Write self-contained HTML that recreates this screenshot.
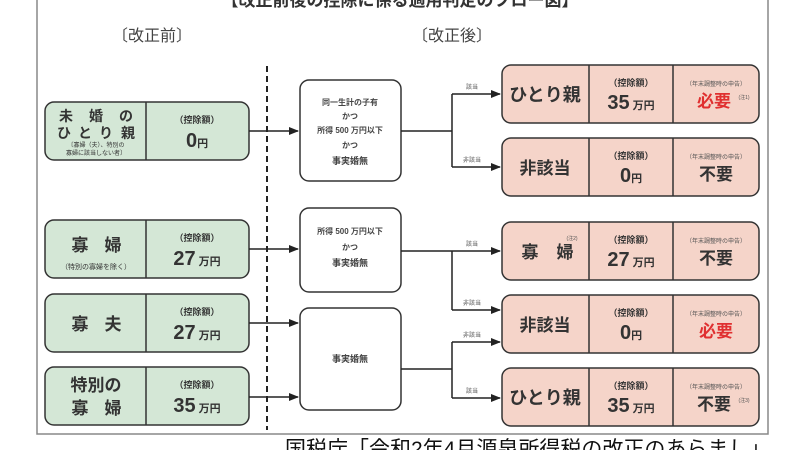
<!DOCTYPE html>
<html><head><meta charset="utf-8"><style>
html,body{margin:0;padding:0;background:#fff;width:800px;height:450px;overflow:hidden}
svg{display:block;font-family:"Liberation Sans","Noto Sans CJK JP",sans-serif}
</style></head><body>
<svg width="800" height="450" viewBox="0 0 800 450" xmlns="http://www.w3.org/2000/svg">
<defs><marker id="a" markerWidth="10" markerHeight="8" refX="9" refY="4" orient="auto" markerUnits="userSpaceOnUse"><path d="M0,0 L10,4 L0,8 z" fill="#222"/></marker></defs>
<path d="M37,0 V434 H768 V0" fill="none" stroke="#888" stroke-width="1.5"/>
<text x="400" y="6" font-size="17" text-anchor="middle" fill="#333" font-weight="bold">【改正前後の控除に係る適用判定のフロー図】</text>
<text x="152" y="41" font-size="16" text-anchor="middle" fill="#444">〔改正前〕</text>
<text x="452" y="41" font-size="16" text-anchor="middle" fill="#444">〔改正後〕</text>
<line x1="267" y1="66" x2="267" y2="430" stroke="#222" stroke-width="2" stroke-dasharray="6,4"/>
<g stroke="#333" stroke-width="1.5" fill="#d4e7d6">
<rect x="45" y="102" width="204" height="58" rx="9"/><line x1="146" y1="102" x2="146" y2="160"/>
<rect x="45" y="220" width="204" height="58" rx="9"/><line x1="146" y1="220" x2="146" y2="278"/>
<rect x="45" y="294" width="204" height="58" rx="9"/><line x1="146" y1="294" x2="146" y2="352"/>
<rect x="45" y="367" width="204" height="58" rx="9"/><line x1="146" y1="367" x2="146" y2="425"/>
</g>
<g fill="#333" text-anchor="middle" font-weight="bold">
<text y="121" font-size="14"><tspan x="66">未</tspan><tspan x="96">婚</tspan><tspan x="126">の</tspan></text>
<text y="138" font-size="14"><tspan x="64">ひ</tspan><tspan x="85">と</tspan><tspan x="106">り</tspan><tspan x="128">親</tspan></text>
<text y="251" font-size="17"><tspan x="80">寡</tspan><tspan x="113">婦</tspan></text>
<text y="330" font-size="17"><tspan x="80">寡</tspan><tspan x="113">夫</tspan></text>
<text x="96" y="391" font-size="17">特別の</text>
<text y="414" font-size="17"><tspan x="80">寡</tspan><tspan x="113">婦</tspan></text>
</g>
<g fill="#333" text-anchor="middle">
<text x="96" y="147" font-size="6">〔寡婦（夫）、特別の</text>
<text x="96" y="155" font-size="6">寡婦に該当しない者〕</text>
<text x="96" y="269" font-size="7">（特別の寡婦を除く）</text>
</g>
<g fill="#333" text-anchor="middle" font-weight="bold">
<text x="197" y="123" font-size="9">（控除額）</text><text x="197" y="147" font-size="20">0<tspan font-size="11">円</tspan></text>
<text x="197" y="241" font-size="9">（控除額）</text><text x="197" y="265" font-size="20">27<tspan font-size="11"> 万円</tspan></text>
<text x="197" y="315" font-size="9">（控除額）</text><text x="197" y="339" font-size="20">27<tspan font-size="11"> 万円</tspan></text>
<text x="197" y="388" font-size="9">（控除額）</text><text x="197" y="412" font-size="20">35<tspan font-size="11"> 万円</tspan></text>
</g>
<g stroke="#222" stroke-width="1.5" marker-end="url(#a)">
<line x1="249" y1="131" x2="298" y2="131"/><line x1="249" y1="249" x2="298" y2="249"/>
<line x1="249" y1="323" x2="298" y2="323"/><line x1="249" y1="397" x2="298" y2="397"/>
</g>
<g stroke="#333" stroke-width="1.5" fill="#fff">
<rect x="300" y="80" width="101" height="101" rx="9"/>
<rect x="300" y="208" width="101" height="84" rx="9"/>
<rect x="300" y="308" width="101" height="102" rx="9"/>
</g>
<g fill="#444" text-anchor="middle" font-size="8" font-weight="bold">
<text x="350" y="105">同一生計の子有</text><text x="350" y="119">かつ</text><text x="350" y="133">所得 500 万円以下</text><text x="350" y="148">かつ</text><text x="350" y="164" font-size="9">事実婚無</text>
<text x="350" y="234">所得 500 万円以下</text><text x="350" y="250">かつ</text><text x="350" y="266" font-size="9">事実婚無</text>
<text x="350" y="362" font-size="9">事実婚無</text>
</g>
<g stroke="#222" stroke-width="1.5" fill="none">
<path d="M401,131 H452 M452,94 V167 M401,251 H452 M452,251 V310 M401,369 H452 M452,342 V398"/>
</g>
<g stroke="#222" stroke-width="1.5" marker-end="url(#a)">
<line x1="452" y1="94" x2="500" y2="94"/><line x1="452" y1="167" x2="500" y2="167"/>
<line x1="452" y1="251" x2="500" y2="251"/><line x1="452" y1="310" x2="500" y2="310"/>
<line x1="452" y1="342" x2="500" y2="342"/><line x1="452" y1="398" x2="500" y2="398"/>
</g>
<g fill="#555" font-size="6" text-anchor="middle">
<text x="472" y="89">該当</text><text x="472" y="162">非該当</text>
<text x="472" y="246">該当</text><text x="472" y="305">非該当</text>
<text x="472" y="337">非該当</text><text x="472" y="393">該当</text>
</g>
<g stroke="#333" stroke-width="1.5" fill="#f5d4c9">
<rect x="502" y="65" width="257" height="58" rx="9"/><path d="M589,65V123M673,65V123"/>
<rect x="502" y="138" width="257" height="58" rx="9"/><path d="M589,138V196M673,138V196"/>
<rect x="502" y="222" width="257" height="58" rx="9"/><path d="M589,222V280M673,222V280"/>
<rect x="502" y="295" width="257" height="58" rx="9"/><path d="M589,295V353M673,295V353"/>
<rect x="502" y="368" width="257" height="58" rx="9"/><path d="M589,368V426M673,368V426"/>
</g>
<g fill="#333" text-anchor="middle" font-weight="bold">
<text x="545" y="101" font-size="18">ひとり親</text>
<text x="545" y="174" font-size="17">非該当</text>
<text y="258" font-size="17"><tspan x="530">寡</tspan><tspan x="565">婦</tspan></text>
<text x="545" y="331" font-size="17">非該当</text>
<text x="545" y="404" font-size="18">ひとり親</text>
</g>
<text x="572" y="240" font-size="5" fill="#555" text-anchor="middle">(注2)</text>
<g fill="#333" text-anchor="middle" font-weight="bold">
<text x="631" y="86" font-size="9">（控除額）</text><text x="631" y="109" font-size="20">35<tspan font-size="11"> 万円</tspan></text>
<text x="631" y="159" font-size="9">（控除額）</text><text x="631" y="182" font-size="20">0<tspan font-size="11">円</tspan></text>
<text x="631" y="243" font-size="9">（控除額）</text><text x="631" y="266" font-size="20">27<tspan font-size="11"> 万円</tspan></text>
<text x="631" y="316" font-size="9">（控除額）</text><text x="631" y="339" font-size="20">0<tspan font-size="11">円</tspan></text>
<text x="631" y="389" font-size="9">（控除額）</text><text x="631" y="412" font-size="20">35<tspan font-size="11"> 万円</tspan></text>
</g>
<g text-anchor="middle">
<g fill="#555" font-size="6">
<text x="716" y="86">（年末調整時の申告）</text><text x="716" y="159">（年末調整時の申告）</text>
<text x="716" y="243">（年末調整時の申告）</text><text x="716" y="316">（年末調整時の申告）</text>
<text x="716" y="389">（年末調整時の申告）</text>
</g>
<g font-weight="bold" font-size="17">
<text x="714" y="107" fill="#e03030">必要</text>
<text x="716" y="180" fill="#333">不要</text>
<text x="716" y="264" fill="#333">不要</text>
<text x="716" y="337" fill="#e03030">必要</text>
<text x="714" y="410" fill="#333">不要</text>
</g>
<text x="744" y="99" font-size="5" fill="#555">(注1)</text>
<text x="744" y="402" font-size="5" fill="#555">(注3)</text>
</g>
<text x="285" y="456" font-size="21" fill="#111">国税庁「令和2年4月源泉所得税の改正のあらまし」</text>
</svg>
</body></html>
